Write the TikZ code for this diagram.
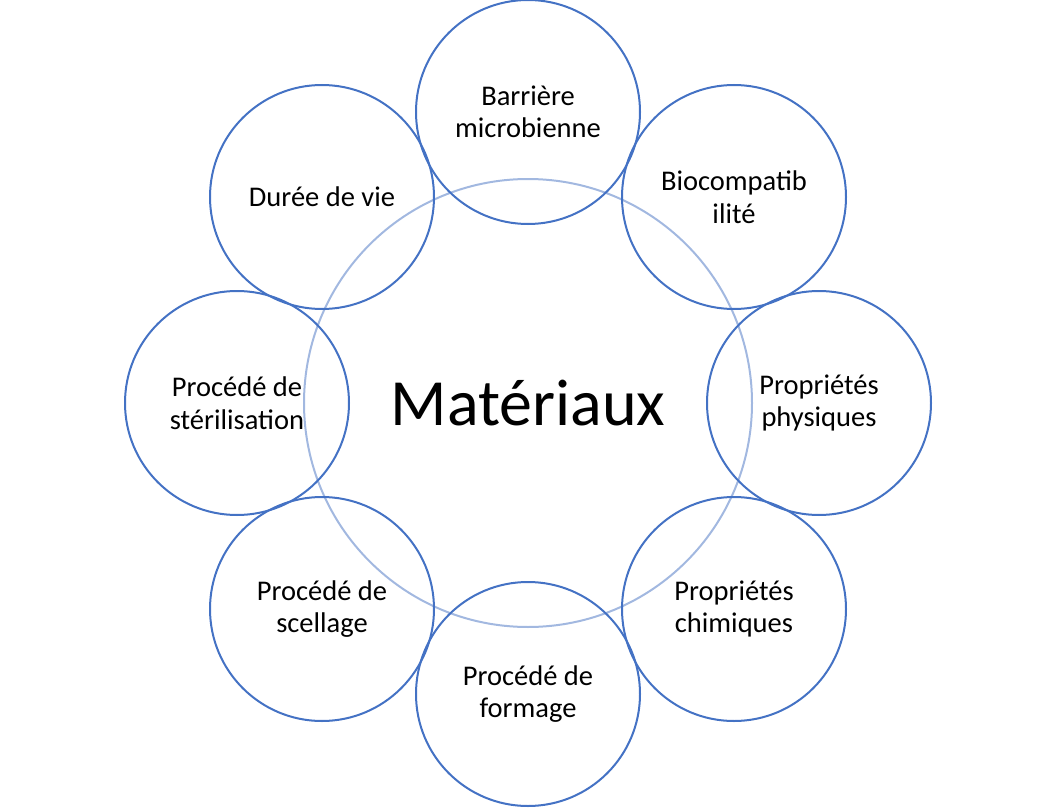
\documentclass[tikz,border=0pt]{standalone}
\usepackage{fontspec,tikz}
\setmainfont{Carlito}
\definecolor{ringblue}{RGB}{68,114,196}
\definecolor{hubblue}{RGB}{162,184,224}

\begin{document}
\begin{tikzpicture}[x=1pt,y=-1pt,
  hub/.style={circle,draw=hubblue,line width=2pt,minimum size=448pt,inner sep=0pt,font=\fontsize{66.0}{79.2}\selectfont},
  petal/.style={circle,draw=ringblue,line width=2pt,minimum size=224pt,inner sep=0pt,align=center,font=\fontsize{28.5}{32.5}\selectfont}]
\path[use as bounding box] (0,0) rectangle (1058.0,808.0);
\node[hub] (materiaux) at (528,403) {Matériaux};
\node[petal] (barriere) at (528,112) {Barrière\\microbienne};
\node[petal] (biocompat) at (734,197) {Biocompatib\\ilité};
\node[petal] (physiques) at (819,403) {Propriétés\\physiques};
\node[petal] (chimiques) at (734,609) {Propriétés\\chimiques};
\node[petal] (formage) at (528,694) {Procédé de\\formage};
\node[petal] (scellage) at (322,609) {Procédé de\\scellage};
\node[petal] (sterilisation) at (237,403) {Procédé de\\stérilisation};
\node[petal] (duree) at (322,197) {Durée de vie};
\end{tikzpicture}
\end{document}
